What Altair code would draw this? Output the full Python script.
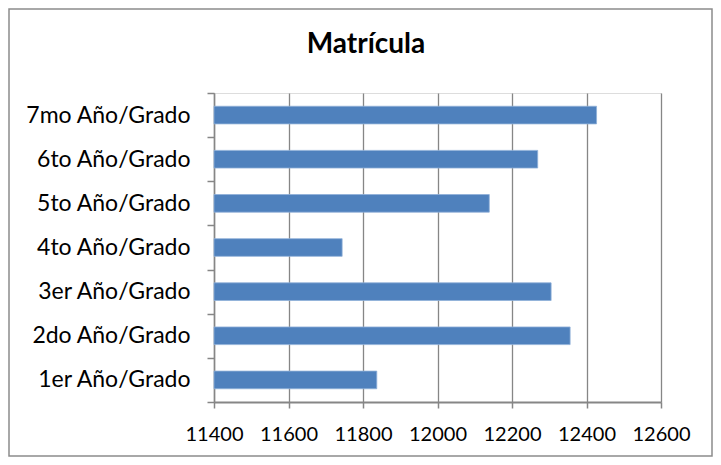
import altair as alt
import pandas as pd

categories = ["7mo Año/Grado", "6to Año/Grado", "5to Año/Grado", "4to Año/Grado",
              "3er Año/Grado", "2do Año/Grado", "1er Año/Grado"]
values = [12427, 12269, 12139, 11744, 12305, 12356, 11837]
x_ticks = [11400, 11600, 11800, 12000, 12200, 12400, 12600]
title_text = "Matrícula"

df = pd.DataFrame({"grado": categories, "matricula": values})

FONT = "Lato"
GRAY = "#868686"

bars = alt.Chart(df).mark_bar(
    color="#4F81BD", stroke="#8FB0D8", strokeWidth=0.8,
    height=alt.RelativeBandSize(0.4)
).encode(
    y=alt.Y("grado:N", sort=categories,
            scale=alt.Scale(paddingInner=0, paddingOuter=0),
            axis=alt.Axis(title=None, tickBand="extent", labelFontSize=23,
                          labelFont=FONT, labelColor="#000000", labelPadding=17,
                          tickSize=7, tickColor=GRAY, tickWidth=1.5,
                          domainColor=GRAY, domainWidth=1.5, grid=False)),
    x=alt.X("matricula:Q",
            scale=alt.Scale(domain=[x_ticks[0], x_ticks[-1]], zero=False, nice=False),
            axis=alt.Axis(title=None, values=x_ticks, format="d", labelFontSize=20,
                          labelFont=FONT, labelColor="#000000", labelPadding=16,
                          labelOverlap=False, labelFlush=False,
                          tickSize=6, tickColor=GRAY, tickWidth=1.5,
                          domainColor=GRAY, domainWidth=2,
                          grid=True, gridColor=GRAY, gridWidth=1.3)),
    x2=alt.datum(x_ticks[0]),
)

border = alt.Chart(pd.DataFrame({"b": [0]})).mark_rect(
    filled=False, stroke="#8C8C8C", strokeWidth=1.5
).encode(
    x=alt.value(-205), x2=alt.value(498),
    y=alt.value(-84), y2=alt.value(363),
)

title = alt.Chart(pd.DataFrame({"t": [title_text]})).mark_text(
    font=FONT, fontSize=28, fontWeight="bold", color="#000000",
    align="center", baseline="alphabetic"
).encode(
    text="t:N", x=alt.value(152), y=alt.value(-40),
)

chart = alt.layer(border, bars, title).properties(
    width=447, height=309,
    autosize=alt.AutoSizeParams(type="none"),
    padding={"left": 206, "top": 85, "right": 52, "bottom": 55},
).configure_view(stroke=None).configure(background="white")

chart.save("out.html", embed_options={"renderer": "svg", "actions": False})
